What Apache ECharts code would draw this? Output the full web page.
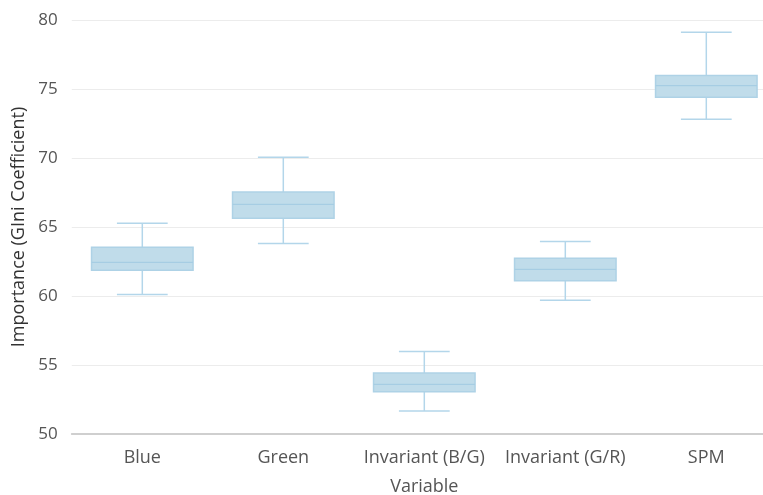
<!DOCTYPE html>
<html>
<head>
<meta charset="utf-8">
<script src="https://cdn.jsdelivr.net/npm/echarts@6/dist/echarts.min.js"></script>
<style>html,body{margin:0;padding:0;background:#fff;}#c{width:763px;height:495px;}</style>
</head>
<body>
<div id="c"></div>
<script>
const categories = ['Blue', 'Green', 'Invariant (B/G)', 'Invariant (G/R)', 'SPM'];
const lowWhisker = [60.1, 63.8, 51.67, 59.7, 72.8];
const q1 = [61.86, 65.63, 53.07, 61.11, 74.4];
const median = [62.44, 66.64, 53.6, 61.93, 75.24];
const q3 = [63.53, 67.54, 54.42, 62.73, 75.97];
const highWhisker = [65.27, 70.05, 55.97, 63.95, 79.11];
const yTicks = [50, 55, 60, 65, 70, 75, 80];

const data = categories.map((c, i) => [i, lowWhisker[i], q1[i], median[i], q3[i], highWhisker[i]]);

const chart = echarts.init(document.getElementById('c'), null, {renderer: 'canvas'});
const font = '"Open Sans", "Noto Sans", sans-serif';
chart.setOption({
  animation: false,
  grid: {left: 71.8, right: -13.8, top: 20, bottom: 61, outerBoundsMode: 'none', containLabel: false},
  xAxis: {
    type: 'category',
    data: categories,
    name: 'Variable',
    nameLocation: 'middle',
    nameGap: 44,
    nameTextStyle: {color: '#555', fontSize: 18, fontFamily: font},
    axisLine: {lineStyle: {color: '#cfcfcf', width: 2}},
    axisTick: {alignWithLabel: true, length: 4, lineStyle: {color: '#cfcfcf'}},
    axisLabel: {color: '#555', fontSize: 18, fontFamily: font, margin: 15, interval: 0, hideOverlap: false}
  },
  yAxis: {
    type: 'value',
    min: yTicks[0],
    max: yTicks[yTicks.length - 1],
    interval: 5,
    name: 'Importance (GIni Coefficient)',
    nameLocation: 'middle',
    nameGap: 41,
    nameTextStyle: {color: '#333', fontSize: 18, fontFamily: font},
    axisLine: {show: false},
    axisTick: {show: false},
    axisLabel: {color: '#555', fontSize: 17, fontFamily: font, margin: 14},
    splitLine: {lineStyle: {color: '#ececec', width: 1}}
  },
  series: [{
    type: 'custom',
    data: data,
    encode: {x: 0, y: [1, 2, 3, 4, 5]},
    renderItem: function (params, api) {
      const idx = api.value(0);
      const band = api.size([1, 0])[0];
      const bw = band * 0.72;
      const cw = band * 0.36;
      const pLow = api.coord([idx, api.value(1)]);
      const pQ1 = api.coord([idx, api.value(2)]);
      const pMed = api.coord([idx, api.value(3)]);
      const pQ3 = api.coord([idx, api.value(4)]);
      const pHigh = api.coord([idx, api.value(5)]);
      const x = pMed[0];
      const lineStyle = {stroke: '#b3d6ea', lineWidth: 1.5};
      return {
        type: 'group',
        children: [
          {type: 'line', shape: {x1: x, y1: pHigh[1], x2: x, y2: pQ3[1]}, style: lineStyle},
          {type: 'line', shape: {x1: x, y1: pQ1[1], x2: x, y2: pLow[1]}, style: lineStyle},
          {type: 'line', shape: {x1: x - cw / 2, y1: pHigh[1], x2: x + cw / 2, y2: pHigh[1]}, style: lineStyle},
          {type: 'line', shape: {x1: x - cw / 2, y1: pLow[1], x2: x + cw / 2, y2: pLow[1]}, style: lineStyle},
          {type: 'rect', shape: {x: x - bw / 2, y: pQ3[1], width: bw, height: pQ1[1] - pQ3[1]},
            style: {fill: '#c0dcea', stroke: '#aed2e6', lineWidth: 1.5}},
          {type: 'line', shape: {x1: x - bw / 2, y1: pMed[1], x2: x + bw / 2, y2: pMed[1]},
            style: {stroke: '#a6cde3', lineWidth: 1.2}}
        ]
      };
    }
  }]
});
</script>
</body>
</html>
